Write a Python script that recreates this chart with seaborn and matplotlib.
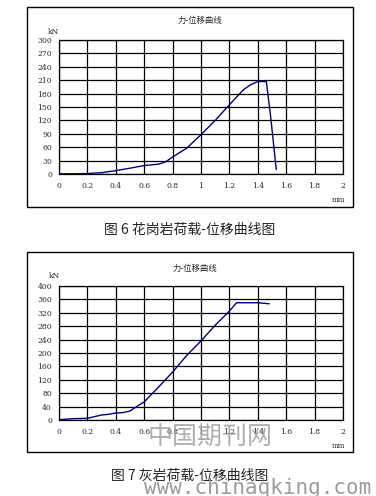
import numpy as np
import pandas as pd
import matplotlib
matplotlib.use("Agg")
import matplotlib.pyplot as plt
import seaborn as sns
from matplotlib.patches import Rectangle

# Fig 6: granite load-displacement
granite_disp = [0.0, 0.1, 0.2, 0.3, 0.4, 0.5, 0.6, 0.7, 0.75, 0.8, 0.9, 1.0,
                1.1, 1.2, 1.3, 1.35, 1.4, 1.46, 1.49, 1.53]
granite_load = [0.5, 0.5, 1, 3, 7.5, 13, 19, 22, 27, 38, 58, 88,
                120, 155, 189, 200, 207, 207, 130, 10]

# Fig 7: limestone load-displacement
lime_disp = [0.0, 0.1, 0.2, 0.3, 0.35, 0.4, 0.45, 0.5, 0.55, 0.6, 0.7, 0.8,
             0.9, 1.0, 1.1, 1.2, 1.25, 1.4, 1.48]
lime_load = [1, 4, 5, 15, 17, 21, 22, 27, 41, 54, 98, 143,
             193, 236, 283, 325, 350, 350, 347]

x_ticks = [0, 0.2, 0.4, 0.6, 0.8, 1, 1.2, 1.4, 1.6, 1.8, 2]
x_labels = ["0", "0.2", "0.4", "0.6", "0.8", "1", "1.2", "1.4", "1.6", "1.8", "2"]
granite_yticks = list(range(0, 301, 30))
lime_yticks = list(range(0, 401, 40))

chart_title = "力-位移曲线"
captions = ["图 6 花岗岩荷载-位移曲线图", "图 7 灰岩荷载-位移曲线图"]

sns.set_style("white")
plt.rcParams["font.family"] = ["Noto Sans CJK SC", "DejaVu Sans"]

W, H = 376, 496
fig = plt.figure(figsize=(W / 100, H / 100), dpi=100)


def px_axes(left, top, right, bottom):
    return fig.add_axes([left / W, 1 - bottom / H, (right - left) / W, (bottom - top) / H])


def frame(left, top, right, bottom):
    fig.patches.append(Rectangle((left / W, 1 - bottom / H), (right - left) / W,
                                 (bottom - top) / H, transform=fig.transFigure,
                                 fill=False, edgecolor="black", linewidth=1.0))


def draw_panel(ax, disp, load, yticks, ymax):
    df = pd.DataFrame({"disp": disp, "load": load})
    sns.lineplot(data=df, x="disp", y="load", ax=ax, color="#000080",
                 linewidth=1.0, sort=False, estimator=None)
    ax.set_xlim(0, 2)
    ax.set_ylim(0, ymax)
    ax.set_xticks(x_ticks)
    ax.set_xticklabels(x_labels)
    ax.set_yticks(yticks)
    ax.set_xlabel("")
    ax.set_ylabel("")
    ax.grid(True, color="black", linewidth=0.9)
    for s in ax.spines.values():
        s.set_color("black")
        s.set_linewidth(0.9)
    ax.tick_params(axis="both", labelsize=5.5, length=0, pad=6,
                   labelfontfamily="DejaVu Serif")
    ax.tick_params(axis="y", pad=5)


# top chart
frame(27, 7, 353, 207)
ax1 = px_axes(59, 40, 343, 174)
draw_panel(ax1, granite_disp, granite_load, granite_yticks, 300)
fig.text(200 / W, 1 - 20 / H, chart_title, ha="center", va="center", fontsize=6)
fig.text(53 / W, 1 - 32 / H, "kN", ha="center", va="center", fontsize=5.5,
         family="DejaVu Serif")
fig.text(338 / W, 1 - 200 / H, "mm", ha="center", va="center", fontsize=5,
         family="DejaVu Serif")
fig.text(190 / W, 1 - 230 / H, captions[0], ha="center", va="center", fontsize=10)

# bottom chart
frame(27, 252, 353, 452)
ax2 = px_axes(59, 286, 343, 420)
draw_panel(ax2, lime_disp, lime_load, lime_yticks, 400)
fig.text(195 / W, 1 - 268 / H, chart_title, ha="center", va="center", fontsize=6)
fig.text(54 / W, 1 - 276 / H, "kN", ha="center", va="center", fontsize=5.5,
         family="DejaVu Serif")
fig.text(338 / W, 1 - 446 / H, "mm", ha="center", va="center", fontsize=5,
         family="DejaVu Serif")
fig.text(190 / W, 1 - 476 / H, captions[1], ha="center", va="center", fontsize=10)

# watermark
fig.text(210 / W, 1 - 438 / H, "中国期刊网", ha="center", va="center", fontsize=18,
         color="#9a9a9a", alpha=0.8)
fig.text(144 / W, 1 - 488 / H, "www.chinaqking.com", ha="left", va="center",
         fontsize=15, color="#8a8a8a", family="DejaVu Sans Mono", alpha=0.85)

fig.savefig("out.png", dpi=100, facecolor="white")
